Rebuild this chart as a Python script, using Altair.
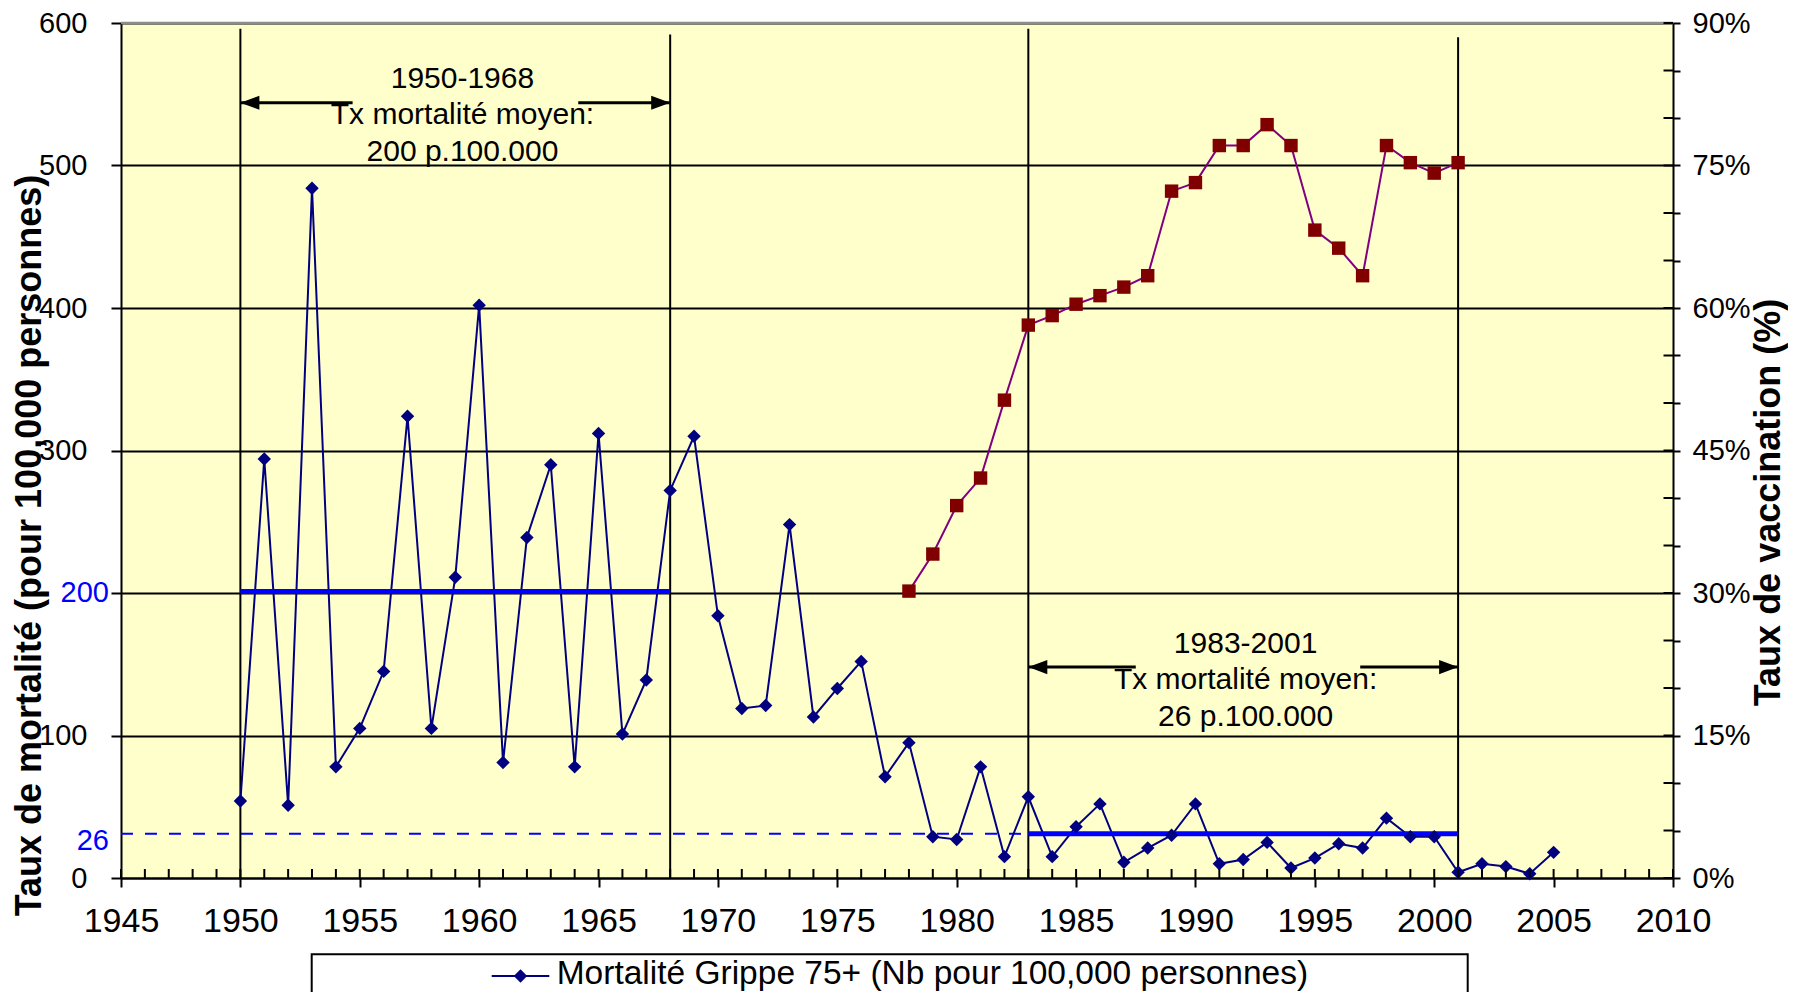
import altair as alt
import pandas as pd

FONT = "Liberation Sans"

# ---------------- data ----------------
years = list(range(1950, 2006))
mortality = [54, 294, 51, 484, 78, 105, 145, 324, 105, 211,
             402, 81, 239, 290, 78, 312, 101, 139, 272, 310,
             184, 119, 121, 248, 113, 133, 152, 71, 95, 29,
             27, 78, 15, 57, 15, 36, 52, 11, 21, 30,
             52, 10, 13, 25, 7, 14, 24, 21, 42, 29,
             29, 4, 10, 8, 3, 18]

vacc_years = list(range(1978, 2002))
vaccination = [30.2, 34.1, 39.2, 42.1, 50.3, 58.2, 59.2, 60.4, 61.3, 62.2,
               63.4, 72.3, 73.2, 77.1, 77.1, 79.3, 77.1, 68.2, 66.3, 63.4,
               77.1, 75.3, 74.2, 75.3]

period_start = [1950, 1983]
period_end = [1968, 2001]
period_mean_label = ["200", "26"]
period_mean_value = [200, 26]
period_line_level = [201, 31]
period_text = ["1950-1968\nTx mortalité moyen:\n200 p.100.000",
               "1983-2001\nTx mortalité moyen:\n26 p.100.000"]
text_year = [1959.3, 1992.1]
text_level = [561, 164.4]
arrow_level = [544, 148]
arrow_left_end = [1954.7, 1987.5]
arrow_right_start = [1964.15, 1996.9]

vline_years = [1950, 1968, 1983, 2001]
vline_tops = [596, 592, 596, 590]

x_ticks = list(range(1945, 2011, 5))
x_minor = list(range(1945, 2011))
y_left_ticks = list(range(0, 601, 100))
y_right_ticks = list(range(0, 91, 5))

legend_label = "Mortalité Grippe 75+ (Nb pour 100,000 personnes)"
left_title = "Taux de mortalité (pour 100,000 personnes)"
right_title = "Taux de vaccination (%)"

# ---------------- style ----------------
W, H = 1552, 855
NAVY = "#000080"
DARKRED = "#800000"
PURPLE = "#800080"
BLUE = "#0000FF"

xscale = alt.Scale(domain=[1945, 2010], nice=False, zero=False)
yscale_l = alt.Scale(domain=[0, 600], nice=False)
yscale_r = alt.Scale(domain=[0, 90], nice=False)

xaxis = alt.Axis(values=x_ticks, format="d", title=None, labelFontSize=34,
                 labelFont=FONT, labelColor="black", tickSize=9, tickColor="black",
                 tickWidth=2, domainColor="black", domainWidth=2, labelPadding=17,
                 grid=False, labelOverlap=False, labelFlush=False)
yaxis_l = alt.Axis(orient="left", values=y_left_ticks, format="d",
                   labelExpr="datum.value == 200 ? '' : datum.label",
                   title=left_title, titleFont=FONT, titleFontSize=36,
                   titleFontWeight="bold", titleColor="black", titleAngle=270,
                   titleX=-81, titleY=522, titleAlign="center",
                   titleBaseline="alphabetic",
                   labelFont=FONT, labelFontSize=29, labelColor="black",
                   labelPadding=24, tickSize=10, tickColor="black", tickWidth=2,
                   domainColor="black", domainWidth=2,
                   grid=True, gridColor="black", gridWidth=2, gridOpacity=1)
yaxis_r = alt.Axis(orient="right", values=y_right_ticks,
                   labelExpr="datum.value % 15 == 0 ? datum.value + '%' : ''",
                   title=right_title, titleFont=FONT, titleFontSize=36,
                   titleFontWeight="bold", titleColor="black", titleAngle=270,
                   titleX=106, titleY=479, titleAlign="center",
                   titleBaseline="alphabetic",
                   labelFont=FONT, labelFontSize=29, labelColor="black",
                   labelPadding=12, tickSize=7, tickColor="black", tickWidth=2,
                   domainColor="black", domainWidth=2, grid=False)


def X(field="year"):
    return alt.X(f"{field}:Q", scale=xscale, axis=xaxis)


def YL(field="m"):
    return alt.Y(f"{field}:Q", scale=yscale_l, axis=yaxis_l)


def YR(field="v"):
    return alt.Y(f"{field}:Q", scale=yscale_r, axis=yaxis_r)


one = pd.DataFrame({"k": [0]})

mort_df = pd.DataFrame({"year": years, "m": mortality})
vacc_df = pd.DataFrame({"year": vacc_years, "v": vaccination})
vline_df = pd.DataFrame({"year": vline_years, "m": vline_tops, "m2": [0] * len(vline_years)})
level_df = pd.DataFrame({"year": period_start, "year2": period_end, "m": period_line_level})
dash_df = pd.DataFrame({"year": [x_ticks[0]], "year2": [period_start[1]], "m": [period_line_level[1]]})
meanlab_df = pd.DataFrame({"m": period_mean_value, "t": period_mean_label})
ann_df = pd.DataFrame({"year": text_year, "m": text_level, "t": period_text})
shaft_l_df = pd.DataFrame({"year": period_start, "year2": arrow_left_end, "m": arrow_level})
shaft_r_df = pd.DataFrame({"year": arrow_right_start, "year2": period_end, "m": arrow_level})
head_l_df = pd.DataFrame({"year": period_start, "m": arrow_level})
head_r_df = pd.DataFrame({"year": period_end, "m": arrow_level})
minor_df = pd.DataFrame({"year": x_minor})
rtick_df = pd.DataFrame({"v": y_right_ticks})

# ---------------- left (mortality) group ----------------
vlines = alt.Chart(vline_df).mark_rule(color="black", strokeWidth=2).encode(
    x=X(), y=YL(), y2="m2:Q")

dashed = alt.Chart(dash_df).mark_rule(color=BLUE, strokeWidth=2, strokeDash=[12, 12]).encode(
    x=X(), x2="year2:Q", y=YL())

mort_line = alt.Chart(mort_df).mark_line(color=NAVY, strokeWidth=2).encode(x=X(), y=YL())

levels = alt.Chart(level_df).mark_rule(color=BLUE, strokeWidth=5).encode(
    x=X(), x2="year2:Q", y=YL())

mort_pts = alt.Chart(mort_df).mark_point(shape="diamond", filled=True, size=180,
                                         color=NAVY, opacity=1).encode(x=X(), y=YL())

top_border = alt.Chart(one).mark_rule(color="#8c8c8c", strokeWidth=2.5).encode(
    x=alt.value(0), x2=alt.value(W), y=alt.value(0))

minor_ticks = alt.Chart(minor_df).mark_rule(color="black", strokeWidth=2).encode(
    x=X(), y=alt.value(H), y2=alt.value(H - 9))

mean_labels = alt.Chart(meanlab_df).mark_text(color=BLUE, font=FONT, fontSize=29,
                                              align="right", baseline="middle").encode(
    x=alt.value(-12), y=YL(), text="t:N")

ann_text = alt.Chart(ann_df).mark_text(color="black", font=FONT, fontSize=30,
                                       align="center", baseline="middle",
                                       lineBreak="\n", lineHeight=36.5).encode(
    x=X(), y=YL(), text="t:N")

shaft_l = alt.Chart(shaft_l_df).mark_rule(color="black", strokeWidth=3).encode(
    x=X(), x2="year2:Q", y=YL())
shaft_r = alt.Chart(shaft_r_df).mark_rule(color="black", strokeWidth=3).encode(
    x=X(), x2="year2:Q", y=YL())
head_l = alt.Chart(head_l_df).mark_point(shape="M0,0L2,-0.74L2,0.74Z", filled=True,
                                         size=361, color="black", opacity=1).encode(
    x=X(), y=YL())
head_r = alt.Chart(head_r_df).mark_point(shape="M0,0L-2,-0.74L-2,0.74Z", filled=True,
                                         size=361, color="black", opacity=1).encode(
    x=X(), y=YL())

# legend (drawn by hand, below the plot)
leg_box = alt.Chart(one).mark_rect(fill="white", stroke="black", strokeWidth=2).encode(
    x=alt.value(190.7), x2=alt.value(1346.7), y=alt.value(931.3), y2=alt.value(1010))
leg_line = alt.Chart(one).mark_rule(color=NAVY, strokeWidth=2).encode(
    x=alt.value(370.7), x2=alt.value(428.3), y=alt.value(953))
leg_pt = alt.Chart(one).mark_point(shape="diamond", filled=True, size=180, color=NAVY,
                                   opacity=1).encode(x=alt.value(399.5), y=alt.value(953))
leg_txt = alt.Chart(pd.DataFrame({"t": [legend_label]})).mark_text(
    color="black", font=FONT, fontSize=33.5, align="left", baseline="middle").encode(
    x=alt.value(435.7), y=alt.value(951), text="t:N")

left = alt.layer(vlines, dashed, mort_line, levels, mort_pts, top_border, minor_ticks,
                 mean_labels, ann_text, shaft_l, shaft_r, head_l, head_r,
                 leg_box, leg_line, leg_pt, leg_txt)

# ---------------- right (vaccination) group ----------------
vacc_line = alt.Chart(vacc_df).mark_line(color=PURPLE, strokeWidth=2).encode(x=X(), y=YR())
vacc_pts = alt.Chart(vacc_df).mark_point(shape="square", filled=True, size=180,
                                         color=DARKRED, opacity=1).encode(x=X(), y=YR())
rticks = alt.Chart(rtick_df).mark_rule(color="black", strokeWidth=2).encode(
    x=alt.value(W - 9.5), x2=alt.value(W), y=YR())

right = alt.layer(vacc_line, vacc_pts, rticks)

chart = alt.layer(left, right).resolve_scale(y="independent").properties(
    width=W, height=H,
    padding={"left": 113, "top": 15, "right": 115, "bottom": 114},
    autosize=alt.AutoSizeParams(type="none"),
    background="white",
).configure_view(fill="#FFFFCC", strokeWidth=0)

chart.save("out.html", embed_options={"renderer": "svg", "actions": False})
